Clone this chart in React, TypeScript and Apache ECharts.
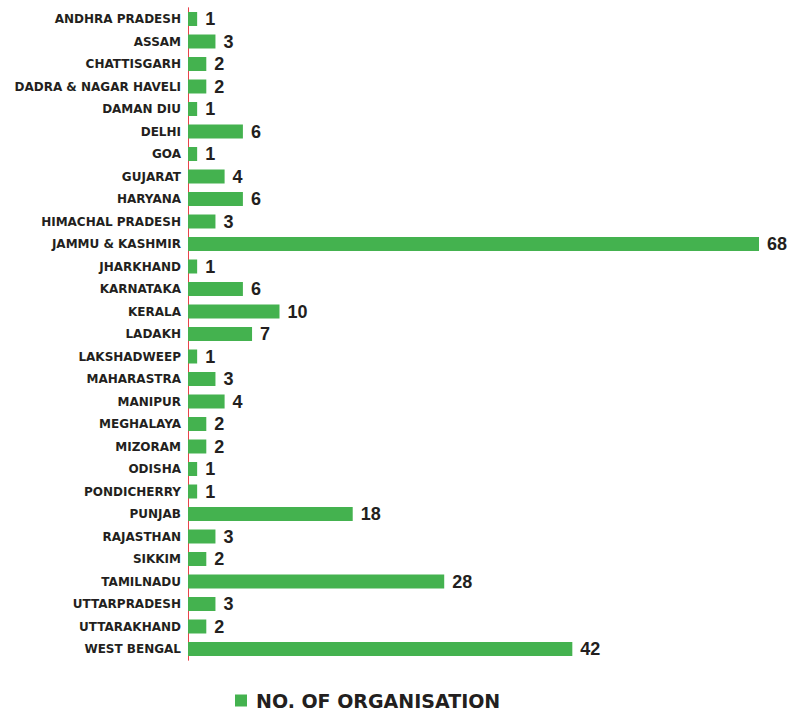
import React, { useEffect, useRef } from "react";
import * as echarts from "echarts";

const states: string[] = [
  "ANDHRA PRADESH",
  "ASSAM",
  "CHATTISGARH",
  "DADRA & NAGAR HAVELI",
  "DAMAN DIU",
  "DELHI",
  "GOA",
  "GUJARAT",
  "HARYANA",
  "HIMACHAL PRADESH",
  "JAMMU & KASHMIR",
  "JHARKHAND",
  "KARNATAKA",
  "KERALA",
  "LADAKH",
  "LAKSHADWEEP",
  "MAHARASTRA",
  "MANIPUR",
  "MEGHALAYA",
  "MIZORAM",
  "ODISHA",
  "PONDICHERRY",
  "PUNJAB",
  "RAJASTHAN",
  "SIKKIM",
  "TAMILNADU",
  "UTTARPRADESH",
  "UTTARAKHAND",
  "WEST BENGAL",
];

const organisations: number[] = [
  1, 3, 2, 2, 1, 6, 1, 4, 6, 3, 68, 1, 6, 10, 7, 1, 3, 4, 2, 2, 1, 1, 18, 3, 2, 28, 3, 2, 42,
];

const seriesName = "NO. OF ORGANISATION";

export default function App() {
  const ref = useRef<HTMLDivElement>(null);

  useEffect(() => {
    document.body.style.margin = "0";
    if (!ref.current) return;
    const chart = echarts.init(ref.current, null, { renderer: "svg" });
    chart.setOption({
      animation: false,
      backgroundColor: "#ffffff",
      textStyle: { fontFamily: "Liberation Sans, Arial, sans-serif" },
      grid: { left: 188, right: 31, top: 7.75, bottom: 49.75, containLabel: false },
      legend: {
        data: [seriesName],
        left: 235,
        top: 691,
        padding: 0,
        icon: "rect",
        itemWidth: 12,
        itemHeight: 12,
        itemGap: 10,
        textStyle: {
          fontSize: 19,
          fontWeight: "bold",
          color: "#231f20",
          padding: [0, 0, 0, 4],
          fontFamily: "DejaVu Sans, Liberation Sans, sans-serif",
        },
      },
      xAxis: {
        type: "value",
        min: 0,
        max: 62.4,
        show: false,
        splitLine: { show: false },
      },
      yAxis: {
        type: "category",
        data: states,
        inverse: true,
        axisLine: { show: true, lineStyle: { color: "#e8434a", width: 1 } },
        axisTick: { show: false },
        axisLabel: {
          margin: 7,
          fontSize: 12,
          fontWeight: "bold",
          color: "#231f20",
          fontFamily: "DejaVu Sans, Liberation Sans, sans-serif",
        },
        splitLine: { show: false },
      },
      series: [
        {
          name: seriesName,
          type: "bar",
          data: organisations,
          barWidth: 14,
          clip: true,
          itemStyle: { color: "#44b24f" },
          label: {
            show: true,
            position: "right",
            distance: 8,
            fontSize: 18,
            fontWeight: "bold",
            color: "#231f20",
            fontFamily: "Liberation Sans, Arial, sans-serif",
          },
        },
      ],
    });
    return () => chart.dispose();
  }, []);

  return <div ref={ref} style={{ width: 790, height: 710 }} />;
}
